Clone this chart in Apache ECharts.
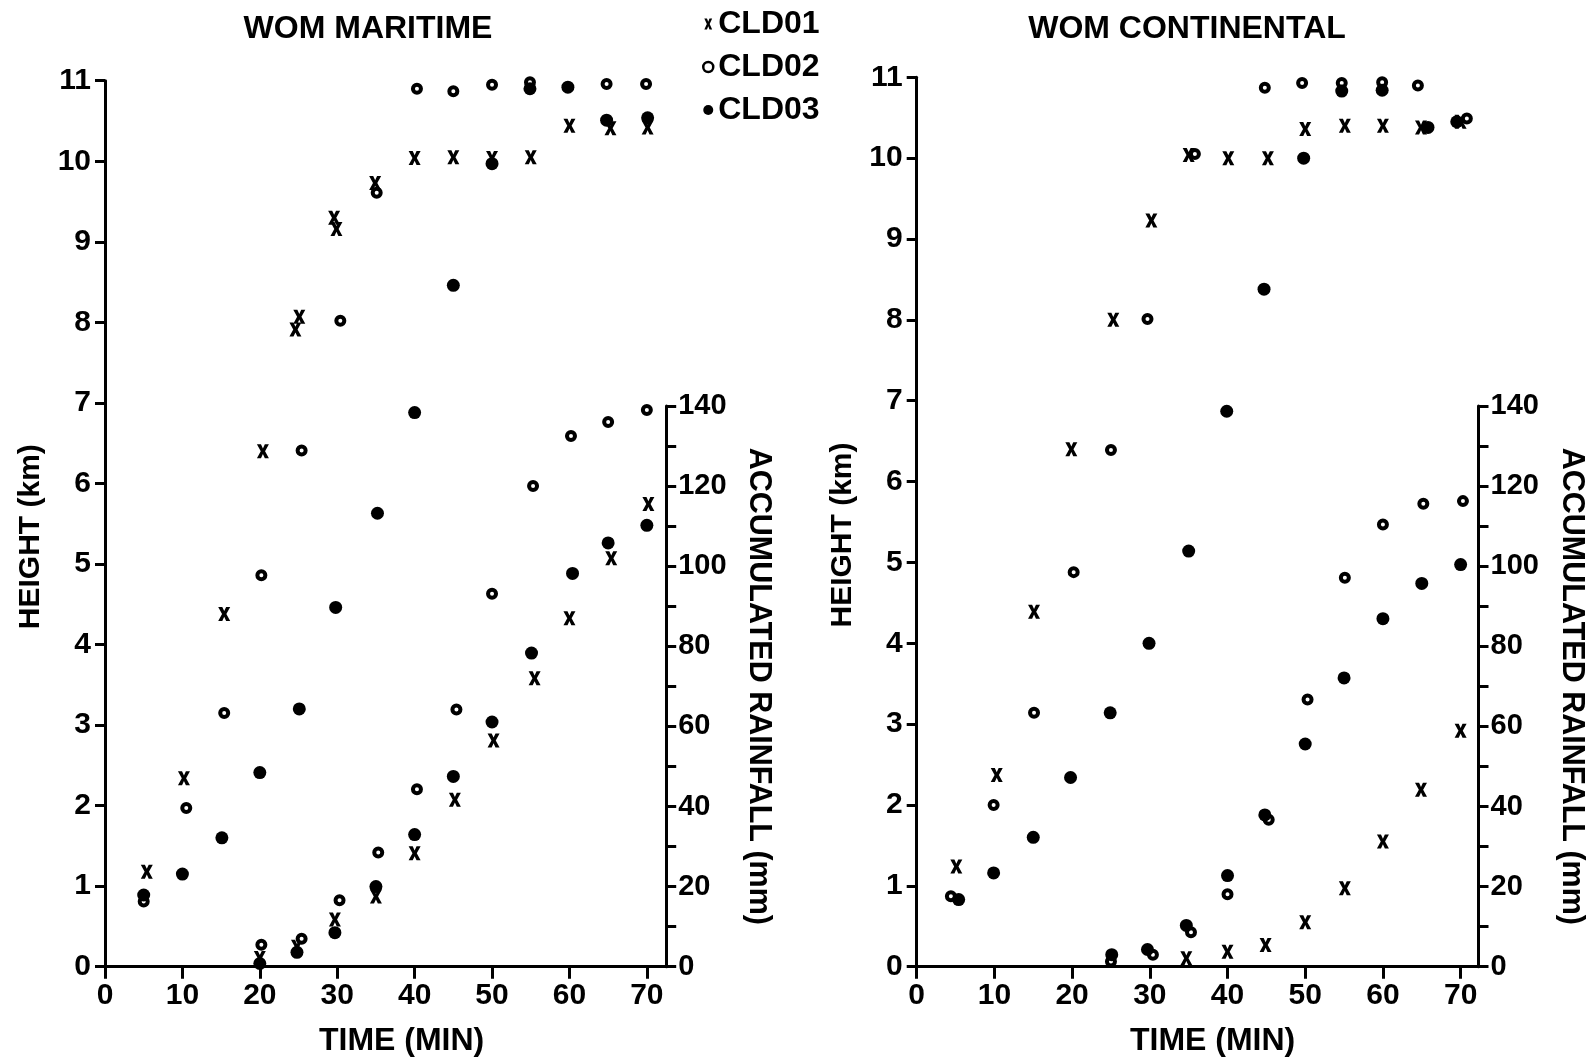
<!DOCTYPE html>
<html>
<head>
<meta charset="utf-8">
<script src="https://cdn.jsdelivr.net/npm/echarts@6/dist/echarts.min.js"></script>
<style>
  html, body { margin: 0; padding: 0; background: #fff; }
  #grafico { width: 1590px; height: 1059px; }
</style>
</head>
<body>
<div id="grafico"></div>
<script>
// tick values
var tempoTicks = [0, 10, 20, 30, 40, 50, 60, 70];
var alturaTicks = [0, 1, 2, 3, 4, 5, 6, 7, 8, 9, 10, 11];
var chuvaTicks = [0, 10, 20, 30, 40, 50, 60, 70, 80, 90, 100, 110, 120, 130, 140];
var chuvaLabels = [0, 20, 40, 60, 80, 100, 120, 140];

// WOM MARITIME - cloud top height (km), [time, value]
var marAltura01 = [[5.4, 1.18], [10.2, 2.34], [15.4, 4.38], [20.4, 6.4], [24.6, 7.91], [25.1, 8.07], [29.9, 9.16], [29.6, 9.3], [34.9, 9.73], [40, 10.04], [45, 10.05], [50, 10.04], [55, 10.05], [60, 10.44], [65.3, 10.41], [70.1, 10.42]];
var marAltura02 = [[5, 0.81], [10.5, 1.97], [15.4, 3.15], [20.2, 4.86], [25.4, 6.41], [30.4, 8.02], [35.1, 9.61], [40.3, 10.9], [45, 10.87], [50, 10.95], [54.9, 10.98], [59.8, 11.02], [64.8, 10.96], [69.9, 10.96]];
var marAltura03 = [[5, 0.89], [10, 1.15], [15.1, 1.6], [20, 2.41], [25.1, 3.2], [29.8, 4.46], [35.2, 5.63], [40, 6.88], [45, 8.46], [50, 9.97], [54.9, 10.9], [59.8, 10.92], [64.8, 10.51], [70.1, 10.54]];

// WOM MARITIME - accumulated rainfall (mm)
var marChuva01 = [[20, 2.2], [24.8, 5], [29.7, 11.8], [35, 17.5], [40, 28.3], [45.2, 41.7], [50.2, 56.5], [55.5, 72], [60, 87], [65.4, 102], [70.2, 115.5]];
var marChuva02 = [[20.2, 5.5], [25.4, 7], [30.3, 16.6], [35.3, 28.5], [40.3, 44.3], [45.4, 64.2], [50, 93.1], [55.3, 120], [60.2, 132.5], [65, 136], [70, 139]];
var marChuva03 = [[20, 0.8], [24.8, 3.6], [29.7, 8.5], [35, 20], [40, 33], [45, 47.5], [50, 61.1], [55.1, 78.3], [60.4, 98.2], [65, 105.8], [70, 110.2]];

// WOM CONTINENTAL - cloud top height (km)
var conAltura01 = [[5.1, 1.24], [10.3, 2.37], [15.1, 4.39], [19.9, 6.4], [25.3, 8.0], [30.2, 9.23], [35, 10.04], [40.1, 10.0], [45.2, 10.0], [50, 10.36], [55.1, 10.4], [60, 10.4], [64.9, 10.38], [70, 10.45]];
var conAltura02 = [[4.4, 0.87], [9.9, 2.0], [15.1, 3.14], [20.2, 4.88], [25, 6.39], [29.7, 8.01], [35.8, 10.05], [39.6, 11.13], [44.8, 10.87], [49.6, 10.93], [54.7, 10.93], [59.9, 10.94], [64.5, 10.9], [70.8, 10.49]];
var conAltura03 = [[5.4, 0.83], [9.9, 1.16], [15, 1.6], [19.8, 2.34], [24.9, 3.14], [29.9, 4.0], [35, 5.14], [39.9, 6.87], [44.7, 8.38], [49.8, 10.0], [54.7, 10.83], [59.9, 10.84], [65.8, 10.38], [69.5, 10.45]];

// WOM CONTINENTAL - accumulated rainfall (mm)
var conChuva01 = [[34.7, 2.1], [40, 3.75], [44.9, 5.4], [50, 11.1], [55.1, 19.6], [60, 31.25], [64.9, 44.2], [70, 58.9]];
var conChuva02 = [[25, 1.3], [30.4, 3], [35.3, 8.6], [40, 18.1], [45.3, 36.7], [50.3, 66.7], [55.1, 97.1], [60, 110.4], [65.2, 115.6], [70.3, 116.25]];
var conChuva03 = [[25.1, 3], [29.7, 4.3], [34.7, 10.3], [40, 22.75], [44.8, 37.9], [50, 55.6], [55, 72.1], [60, 86.9], [65, 95.7], [70, 100.4]];

var fonte = 'Liberation Sans';
var peso = 'bold';
// thick "x" marker like the hand lettered one
var simboloX = 'path://M0,0 L3.4,0 L5,4.2 L6.6,0 L10,0 L6.8,7 L10,14 L6.6,14 L5,9.8 L3.4,14 L0,14 L3.2,7 Z';

var estilos = {
    CLD01: { symbol: simboloX, symbolSize: [12, 14], itemStyle: { color: '#000', opacity: 1 } },
    CLD02: { symbol: 'circle', symbolSize: 8, itemStyle: { color: '#fff', borderColor: '#000', borderWidth: 4, opacity: 1 } },
    CLD03: { symbol: 'circle', symbolSize: 13, itemStyle: { color: '#000', opacity: 1 } }
};

function serie(nome, dados, xIdx, yIdx) {
    return {
        name: nome,
        type: 'scatter',
        xAxisIndex: xIdx,
        yAxisIndex: yIdx,
        symbol: estilos[nome].symbol,
        symbolSize: estilos[nome].symbolSize,
        itemStyle: estilos[nome].itemStyle,
        silent: true,
        data: dados
    };
}

function eixoTempo(gridIdx, max, deslocamento) {
    return {
        type: 'value', gridIndex: gridIdx, min: 0, max: max, interval: 10,
        axisLine: { onZero: false, lineStyle: { color: '#000', width: 3 } },
        axisTick: { customValues: tempoTicks, length: 12, lineStyle: { color: '#000', width: 3 } },
        axisLabel: { customValues: tempoTicks, margin: 14, fontSize: 30, fontWeight: peso, color: '#000', fontFamily: fonte },
        splitLine: { show: false },
        name: 'TIME (MIN)', nameLocation: 'middle', nameGap: 58,
        nameTextStyle: { fontSize: 32, fontWeight: peso, color: '#000', fontFamily: fonte, padding: [0, 0, 0, deslocamento * 2] }
    };
}

function eixoOculto(gridIdx, max) {
    return { type: 'value', gridIndex: gridIdx, min: 0, max: max, show: false };
}

function eixoAltura(gridIdx) {
    return {
        type: 'value', gridIndex: gridIdx, position: 'left', min: 0, max: 11, interval: 1,
        axisLine: { show: true, onZero: false, lineStyle: { color: '#000', width: 3 } },
        axisTick: { show: true, customValues: alturaTicks, length: 10, lineStyle: { color: '#000', width: 3 } },
        axisLabel: { customValues: alturaTicks, margin: 14, fontSize: 30, fontWeight: peso, color: '#000', fontFamily: fonte },
        splitLine: { show: false },
        name: 'HEIGHT (km)', nameLocation: 'middle', nameRotate: 90, nameGap: 59,
        nameTextStyle: { fontSize: 30, fontWeight: peso, color: '#000', fontFamily: fonte, padding: [0, 26, 0, 0] }
    };
}

function eixoChuva(gridIdx) {
    return {
        type: 'value', gridIndex: gridIdx, position: 'right', min: 0, max: 140, interval: 10,
        axisLine: { show: true, onZero: false, lineStyle: { color: '#000', width: 3 } },
        axisTick: { show: true, customValues: chuvaTicks, length: 10, lineStyle: { color: '#000', width: 3 } },
        axisLabel: { customValues: chuvaLabels, margin: 12, fontSize: 29, fontWeight: peso, color: '#000', fontFamily: fonte },
        splitLine: { show: false },
        name: 'ACCUMULATED RAINFALL (mm)', nameLocation: 'middle', nameRotate: -90, nameGap: 77,
        nameTextStyle: { fontSize: 30.5, fontWeight: peso, color: '#000', fontFamily: fonte }
    };
}

var myChart = echarts.init(document.getElementById('grafico'), null, { renderer: 'canvas' });

var series_grafico = [];
// maritime panel: grid 0 (height) and grid 1 (rainfall)
series_grafico.push(serie('CLD01', marAltura01, 0, 0));
series_grafico.push(serie('CLD02', marAltura02, 0, 0));
series_grafico.push(serie('CLD03', marAltura03, 0, 0));
series_grafico.push(serie('CLD01', marChuva01, 1, 1));
series_grafico.push(serie('CLD02', marChuva02, 1, 1));
series_grafico.push(serie('CLD03', marChuva03, 1, 1));
// continental panel: grid 2 (height) and grid 3 (rainfall)
series_grafico.push(serie('CLD01', conAltura01, 2, 2));
series_grafico.push(serie('CLD02', conAltura02, 2, 2));
series_grafico.push(serie('CLD03', conAltura03, 2, 2));
series_grafico.push(serie('CLD01', conChuva01, 3, 3));
series_grafico.push(serie('CLD02', conChuva02, 3, 3));
series_grafico.push(serie('CLD03', conChuva03, 3, 3));

var option = {
    backgroundColor: '#fff',
    animation: false,
    textStyle: { fontFamily: fonte },
    grid: [
        { left: 105, top: 80.7, width: 561.2, height: 886, outerBoundsMode: 'none' },
        { left: 105, top: 406, width: 561.2, height: 560.7, outerBoundsMode: 'none' },
        { left: 916.7, top: 77.3, width: 561.8, height: 889.4, outerBoundsMode: 'none' },
        { left: 916.7, top: 406, width: 561.8, height: 560.7, outerBoundsMode: 'none' }
    ],
    xAxis: [eixoTempo(0, 72.5, 16), eixoOculto(1, 72.5), eixoTempo(2, 72.3, 15), eixoOculto(3, 72.3)],
    yAxis: [eixoAltura(0), eixoChuva(1), eixoAltura(2), eixoChuva(3)],
    legend: {
        orient: 'vertical', left: 702, top: 8, padding: 0,
        itemWidth: 10, itemHeight: 11, itemGap: 11, selectedMode: false,
        textStyle: { fontSize: 32, fontWeight: peso, color: '#000', fontFamily: fonte },
        data: [
            { name: 'CLD01', icon: simboloX, itemStyle: { color: '#000', opacity: 1 } },
            { name: 'CLD02', icon: 'circle', itemStyle: { color: '#fff', borderColor: '#000', borderWidth: 2.5, opacity: 1 } },
            { name: 'CLD03', icon: 'circle', itemStyle: { color: '#000', opacity: 1 } }
        ]
    },
    graphic: [
        { type: 'text', x: 368, y: 29, style: { text: 'WOM MARITIME', fontSize: 32, fontWeight: peso, fontFamily: fonte, fill: '#000', align: 'center', verticalAlign: 'middle' } },
        { type: 'text', x: 1187, y: 29, style: { text: 'WOM CONTINENTAL', fontSize: 32, fontWeight: peso, fontFamily: fonte, fill: '#000', align: 'center', verticalAlign: 'middle' } }
    ],
    series: series_grafico
};

myChart.setOption(option);
</script>
</body>
</html>
